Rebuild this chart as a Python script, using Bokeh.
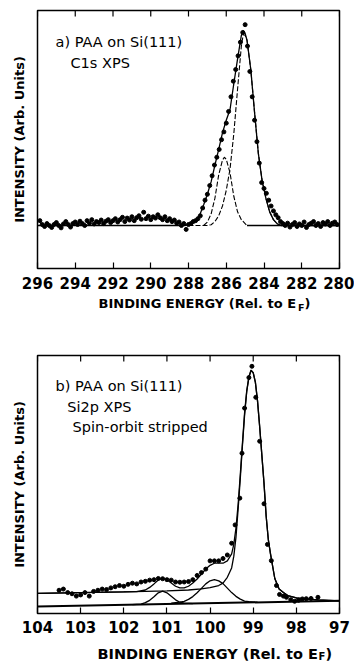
import numpy as np
from bokeh.plotting import figure
from bokeh.models import Range1d, LinearAxis, FixedTicker, Label
from bokeh.layouts import column
from bokeh.embed import file_html
from bokeh.resources import INLINE

FONT = "DejaVu Sans"

# ---------------- panel a : C1s XPS ----------------
c1s_ticks = [296, 294, 292, 290, 288, 286, 284, 282, 280]
c1s_energy = [round(float(e), 3) for e in np.arange(295.875, 280.0, -0.125)]
c1s_counts = [
    0.025, 0.005, -0.005, 0.01, 0.0, -0.01, 0.005, 0.015, 0.0, -0.012, 0.008, 0.02, 0.005, -0.008, 0.01, 0.018,
    0.005, 0.022, 0.01, 0.0, 0.025, 0.012, 0.03, 0.008, 0.02, 0.015, 0.028, 0.01, 0.022, 0.03, 0.015, 0.025,
    0.035, 0.018, 0.03, 0.042, 0.02, 0.038, 0.028, 0.045, 0.025, 0.04, 0.05, 0.032, 0.068, 0.035, 0.048, 0.03,
    0.045, 0.038, 0.055, 0.04, 0.03, 0.045, 0.025, 0.035, 0.02, 0.028, 0.012, 0.018, 0.0, 0.01, -0.02, 0.005,
    0.01, 0.02, 0.025, 0.035, 0.05, 0.09, 0.13, 0.16,
    0.205, 0.255, 0.31, 0.35, 0.39, 0.44, 0.48, 0.525,
    0.585, 0.66, 0.74, 0.80, 0.87, 0.94, 0.99, 1.03,
    0.92, 0.79, 0.66, 0.54, 0.43, 0.32, 0.22, 0.19,
    0.165, 0.13, 0.10, 0.075, 0.055, 0.04, 0.02, 0.01,
    0.0, 0.012, -0.008, 0.005, 0.015, -0.005, 0.008, 0.0, 0.018, -0.01, 0.005, 0.012,
    0.02, 0.0, 0.01, -0.005, 0.015, 0.008, 0.02, 0.0, 0.012, 0.018, 0.005,
]
assert len(c1s_energy) == len(c1s_counts)

c1s_fit_energy = [296.0, 288.2, 288.0, 287.8, 287.6, 287.4, 287.2, 287.0, 286.8, 286.6, 286.4, 286.2,
                  286.0, 285.8, 285.6, 285.4, 285.2, 285.1, 285.0, 284.9, 284.7, 284.5, 284.3, 284.1,
                  283.9, 283.7, 283.5, 283.3, 283.1, 280.0]
c1s_fit = [0.0, 0.0, 0.005, 0.015, 0.03, 0.055, 0.105, 0.16, 0.225, 0.31, 0.39, 0.475,
           0.54, 0.595, 0.727, 0.855, 0.975, 1.0, 0.985, 0.95, 0.8, 0.58, 0.37, 0.23,
           0.14, 0.07, 0.03, 0.009, 0.0, 0.0]

c1s_main_energy = [288.0, 287.0, 286.8, 286.6, 286.4, 286.2, 286.0, 285.8, 285.6, 285.4, 285.2, 285.1,
                   285.0, 284.9, 284.7, 284.5, 284.3, 284.1, 283.9, 283.7, 283.5, 283.3, 283.1]
c1s_main = [0.0, 0.0, 0.004, 0.02, 0.05, 0.1, 0.18, 0.29, 0.47, 0.7, 0.92, 0.98,
            0.975, 0.95, 0.8, 0.58, 0.37, 0.23, 0.14, 0.07, 0.03, 0.009, 0.0]

c1s_comp2_energy = [287.2, 287.0, 286.8, 286.6, 286.4, 286.2, 286.1, 286.0, 285.8, 285.6, 285.4, 285.2, 285.0, 284.9]
c1s_comp2 = [0.0, 0.017, 0.06, 0.14, 0.26, 0.335, 0.35, 0.34, 0.27, 0.15, 0.07, 0.03, 0.01, 0.0]

c1s_base_energy = [284.9, 280.0]
c1s_base = [0.0, 0.0]

# ---------------- panel b : Si2p XPS ----------------
si_ticks = [104, 103, 102, 101, 100, 99, 98, 97]
si_energy = [103.5, 103.4, 103.3, 103.2, 103.1, 103.0, 102.9, 102.8, 102.7, 102.6, 102.5, 102.4,
             102.3, 102.2, 102.1, 102.0, 101.9, 101.8, 101.7, 101.6, 101.5, 101.4, 101.3, 101.2,
             101.1, 101.0, 100.9, 100.8, 100.7, 100.6, 100.5, 100.4, 100.3, 100.2, 100.1, 100.0,
             99.9, 99.8, 99.7, 99.6, 99.5, 99.42, 99.31, 99.26, 99.2, 99.1, 99.03,
             98.94, 98.85, 98.75, 98.67, 98.58, 98.46, 98.39, 98.3, 98.23, 98.13, 98.04, 97.95,
             97.86, 97.77, 97.66, 97.5]
si_counts = [0.065, 0.07, 0.055, 0.05, 0.04, 0.045, 0.055, 0.04, 0.06, 0.065, 0.07, 0.068,
             0.075, 0.08, 0.085, 0.082, 0.09, 0.095, 0.092, 0.1, 0.103, 0.108, 0.11, 0.115,
             0.114, 0.11, 0.108, 0.1, 0.099, 0.1, 0.102, 0.11, 0.128, 0.14, 0.155, 0.19,
             0.19, 0.19, 0.2, 0.215, 0.265, 0.343, 0.457, 0.648, 0.84, 0.97, 1.018,
             0.886, 0.699, 0.433, 0.26, 0.191, 0.085, 0.047, 0.04, 0.035, 0.025, 0.018, 0.022,
             0.028, 0.029, 0.03, 0.035]
assert len(si_energy) == len(si_counts)

si_fit_energy = [104.0, 103.0, 102.0, 101.7, 101.5, 101.4, 101.3, 101.2, 101.1, 101.0, 100.9, 100.8,
                 100.7, 100.6, 100.5, 100.4, 100.3, 100.2, 100.1, 100.0, 99.9, 99.8, 99.7, 99.6,
                 99.5, 99.45, 99.4, 99.35, 99.3, 99.25, 99.2, 99.15, 99.1, 99.05, 99.0, 98.95,
                 98.9, 98.85, 98.8, 98.75, 98.7, 98.65, 98.6, 98.5, 98.4, 98.3, 98.2, 98.0,
                 97.8, 97.5, 97.0]
si_fit = [0.052, 0.055, 0.058, 0.059, 0.066, 0.077, 0.092, 0.109, 0.116, 0.11, 0.096, 0.082,
          0.075, 0.075, 0.082, 0.096, 0.113, 0.134, 0.155, 0.171, 0.18, 0.18, 0.18, 0.19,
          0.22, 0.26, 0.33, 0.43, 0.556, 0.69, 0.82, 0.915, 0.974, 1.002, 0.991, 0.951,
          0.871, 0.761, 0.641, 0.521, 0.381, 0.281, 0.221, 0.115, 0.07, 0.055, 0.042, 0.032,
          0.028, 0.024, 0.02]

si_main_energy = [104.0, 103.0, 102.0, 101.0, 100.5, 100.2, 100.0, 99.8, 99.7, 99.6, 99.5, 99.45,
                  99.4, 99.35, 99.3, 99.25, 99.2, 99.15, 99.1, 99.05, 99.0, 98.95, 98.9, 98.85,
                  98.8, 98.75, 98.7, 98.65, 98.6, 98.5, 98.4, 98.3, 98.2, 98.0, 97.8, 97.5, 97.0]
si_main = [0.052, 0.055, 0.058, 0.062, 0.066, 0.071, 0.076, 0.085, 0.095, 0.12, 0.16, 0.21,
           0.29, 0.41, 0.54, 0.68, 0.81, 0.91, 0.97, 1.0, 0.99, 0.95, 0.87, 0.76,
           0.64, 0.52, 0.38, 0.28, 0.22, 0.115, 0.07, 0.055, 0.042, 0.032, 0.028, 0.024, 0.02]

si_comp1_energy = [101.8, 101.6, 101.5, 101.4, 101.3, 101.2, 101.1, 101.0, 100.9, 100.8, 100.7, 100.6, 100.4]
si_comp1 = [0.004, 0.006, 0.012, 0.022, 0.037, 0.054, 0.061, 0.054, 0.039, 0.024, 0.014, 0.01, 0.008]

si_comp2_energy = [100.9, 100.8, 100.7, 100.6, 100.5, 100.4, 100.3, 100.2, 100.1, 100.0, 99.9, 99.8,
                   99.7, 99.6, 99.5, 99.4, 99.3, 99.2, 99.1, 99.0, 98.9]
si_comp2 = [0.01, 0.012, 0.014, 0.018, 0.026, 0.038, 0.054, 0.073, 0.092, 0.105, 0.11, 0.105,
            0.093, 0.074, 0.055, 0.039, 0.027, 0.019, 0.016, 0.014, 0.014]

si_base_energy = [104.0, 97.0]
si_base = [-0.004, 0.02]

# ---------------- layout helpers ----------------
W = 354
FRAME_L, FRAME_W, FRAME_H = 37, 302, 258
FRAME_R = FRAME_L + FRAME_W
TICK_PX = 6


def make_panel(xr, yr, ticks, height, top, tick_font_px, standoff, ylabel):
    p = figure(width=W, height=height, x_range=Range1d(*xr), y_range=Range1d(*yr),
               output_backend="svg", toolbar_location=None,
               x_axis_location=None, y_axis_location=None,
               min_border_left=FRAME_L, min_border_right=W - FRAME_R,
               min_border_top=top, min_border_bottom=height - top - FRAME_H)
    p.xgrid.grid_line_color = None
    p.ygrid.grid_line_color = None
    p.outline_line_color = "black"
    p.outline_line_width = 1.5
    p.outline_line_alpha = 1.0
    p.background_fill_color = "white"
    p.border_fill_color = "white"

    xax = LinearAxis(ticker=FixedTicker(ticks=ticks))
    xax.axis_line_color = None
    xax.major_tick_in = TICK_PX
    xax.major_tick_out = 0
    xax.major_tick_line_width = 1.2
    xax.major_tick_line_color = "black"
    xax.minor_tick_line_color = None
    xax.major_label_text_font = FONT
    xax.major_label_text_font_size = tick_font_px
    xax.major_label_text_font_style = "bold"
    xax.major_label_text_color = "black"
    xax.major_label_standoff = standoff
    p.add_layout(xax, "below")

    yax = LinearAxis(ticker=FixedTicker(ticks=[]))
    yax.axis_line_color = None
    yax.major_tick_line_color = None
    yax.minor_tick_line_color = None
    yax.axis_label = ylabel
    yax.axis_label_text_font = FONT
    yax.axis_label_text_font_size = "13px"
    yax.axis_label_text_font_style = "bold"
    yax.axis_label_text_color = "black"
    yax.axis_label_standoff = 11
    p.add_layout(yax, "left")

    # inward ticks on the top edge of the frame, at the same tick values
    tick_len = TICK_PX * (yr[1] - yr[0]) / FRAME_H
    p.segment(x0=ticks, y0=[yr[1]] * len(ticks), x1=ticks, y1=[yr[1] - tick_len] * len(ticks),
              line_color="black", line_width=1.2)
    return p


def px_to_x(px, xr):
    return xr[0] + (px - FRAME_L) * (xr[1] - xr[0]) / FRAME_W


def py_to_y(py, top, yr):
    return yr[1] - (py - top) * (yr[1] - yr[0]) / FRAME_H


def add_text(p, xr, yr, top, px, py, text, size):
    p.add_layout(Label(x=px_to_x(px, xr), y=py_to_y(py, top, yr), text=text,
                       text_font=FONT, text_font_size=size, text_color="black",
                       text_align="left", text_baseline="alphabetic"))


def label_strip(height, pieces):
    # the column layout aligns this strip's frame with the panels' frames (x 37..339),
    # so the x range is expressed in page pixels over that span
    s = figure(width=W, height=height, x_range=Range1d(FRAME_L, FRAME_R), y_range=Range1d(0, height),
               output_backend="svg", toolbar_location=None,
               x_axis_location=None, y_axis_location=None,
               min_border_left=FRAME_L, min_border_right=W - FRAME_R,
               min_border_top=0, min_border_bottom=0)
    s.xgrid.grid_line_color = None
    s.ygrid.grid_line_color = None
    s.outline_line_color = None
    s.background_fill_color = "white"
    s.border_fill_color = "white"
    for px, base_from_top, text, size in pieces:
        s.add_layout(Label(x=px, y=height - base_from_top, text=text, text_font=FONT,
                           text_font_size=size, text_font_style="bold", text_color="black",
                           text_align="left", text_baseline="alphabetic"))
    return s


# ---------------- panel a ----------------
xa = (296.0, 280.0)
ya = (-0.2205, 1.1026)
TOP_A = 10
HA = 296
pa = make_panel(xa, ya, c1s_ticks, HA, TOP_A, "15px", 8, "INTENSITY (Arb. Units)")
pa.line(c1s_base_energy, c1s_base, line_color="black", line_width=1.3)
pa.line(c1s_main_energy, c1s_main, line_color="black", line_width=1.1, line_dash="5 2")
pa.line(c1s_comp2_energy, c1s_comp2, line_color="black", line_width=1.1, line_dash="5 2")
pa.line(c1s_fit_energy, c1s_fit, line_color="black", line_width=1.3)
pa.scatter(c1s_energy, c1s_counts, size=4, color="black")
add_text(pa, xa, ya, TOP_A, 55, 41, "a) PAA on Si(111)", "14.5px")
add_text(pa, xa, ya, TOP_A, 70, 62, "C1s XPS", "14.5px")

# x-axis title of panel a (page y 296..330)
SA_H = 330 - HA
sa = label_strip(SA_H, [(98, 303 - HA, "BINDING ENERGY (Rel. to E", "13px"),
                        (297.5, 307 - HA, "F", "9.5px"),
                        (304, 303 - HA, ")", "13px")])

# ---------------- panel b ----------------
xb = (104.0, 97.0)
yb = (-0.034, 1.064)
TOP_B = 25
PB0 = 330
HB = 308
pb = make_panel(xb, yb, si_ticks, HB, TOP_B, "15px", 7, "INTENSITY (Arb. Units)")
pb.line(si_base_energy, si_base, line_color="black", line_width=2.0)
pb.line(si_comp1_energy, si_comp1, line_color="black", line_width=1.3)
pb.line(si_comp2_energy, si_comp2, line_color="black", line_width=1.3)
pb.line(si_main_energy, si_main, line_color="black", line_width=1.3)
pb.line(si_fit_energy, si_fit, line_color="black", line_width=1.3)
pb.scatter(si_energy, si_counts, size=4, color="black")
add_text(pb, xb, yb, TOP_B, 55, 385 - PB0, "b) PAA on Si(111)", "14.5px")
add_text(pb, xb, yb, TOP_B, 66.7, 406.7 - PB0, "Si2p XPS", "14.5px")
add_text(pb, xb, yb, TOP_B, 72, 426.7 - PB0, "Spin-orbit stripped", "14.5px")

# x-axis title of panel b (page y 638..662)
SB0 = PB0 + HB
SB_H = 662 - SB0
sb = label_strip(SB_H, [(97, 653 - SB0, "BINDING ENERGY (Rel. to E", "14.5px"),
                        (318, 656 - SB0, "F", "10px"),
                        (325, 653 - SB0, ")", "14.5px")])

layout = column(pa, sa, pb, sb, spacing=0)
open("out.html", "w").write(file_html(layout, INLINE, "PAA on Si(111) XPS"))
